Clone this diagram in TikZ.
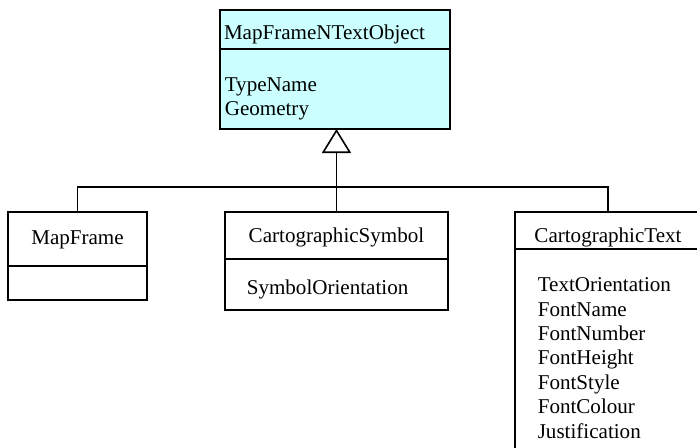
\documentclass[tikz,border=0pt]{standalone}
\usepackage{fontspec}
\setmainfont{Liberation Serif}
\usetikzlibrary{arrows.meta}

\definecolor{objcyan}{RGB}{204,255,255}

\tikzset{every picture/.style={line width=1.2pt}}
\tikzset{
  classhead/.style={draw, anchor=north west, inner sep=0pt, outer sep=0pt},
  classbody/.style={draw, anchor=north west, inner sep=0pt, outer sep=0pt},
  attrlist/.style={anchor=north west, align=left, inner sep=0pt},
  inherit/.style={-{Triangle[open, width=21.75pt, length=18pt]}},
}

\begin{document}
\begin{tikzpicture}[x=0.75pt,y=0.75pt,yscale=-1,xscale=1,
  font=\fontsize{15.8pt}{18.3pt}\selectfont]
\useasboundingbox (0,0) rectangle (697,447);
\clip (0,0) rectangle (697,447);

% Class box: MapFrameNTextObject
\node [classhead, fill=objcyan, minimum width=172.5pt, minimum height=29.25pt, text width=166.5pt, align=left, text height=18.4pt, text depth=3.4pt] (objhead) at (220,10) {MapFrameNTextObject};
\node [classbody, fill=objcyan, minimum width=172.5pt, minimum height=60pt] (objbody) at (220,49) {};
% Text Node
\node [attrlist] (objattrs) at (224,77) {TypeName\\Geometry};

% Class box: MapFrame
\node [classhead, minimum width=104.25pt, minimum height=40.5pt, text height=10.9pt, text depth=3.4pt] (maphead) at (8,212) {MapFrame};
\node [classbody, minimum width=104.25pt, minimum height=25.5pt] (mapbody) at (8,266) {};

% Class box: CartographicSymbol
\node [classhead, minimum width=167.25pt, minimum height=35.25pt, text height=13.9pt, text depth=3.4pt] (symhead) at (225,212) {CartographicSymbol};
\node [classbody, minimum width=167.25pt, minimum height=38.25pt] (symbody) at (225,259) {};
% Text Node
\node [attrlist] (symattrs) at (246,279) {SymbolOrientation};

% Class box: CartographicText
\node [classhead, minimum width=139.5pt, minimum height=27.75pt, text height=20.7pt, text depth=3.4pt] (texthead) at (515,212) {CartographicText};
\node [classbody, minimum width=139.5pt, minimum height=165.75pt] (textbody) at (515,249) {};
% Text Node
\node [attrlist] (textattrs) at (537,277) {TextOrientation\\FontName\\FontNumber\\FontHeight\\FontStyle\\FontColour\\Justification};

%Straight Lines
\coordinate (bus) at (336,187);
\draw (maphead.north) |- (bus) -| (texthead.north);
\draw [inherit] (symhead.north) -- (symhead.north |- objbody.south);

\end{tikzpicture}
\end{document}
